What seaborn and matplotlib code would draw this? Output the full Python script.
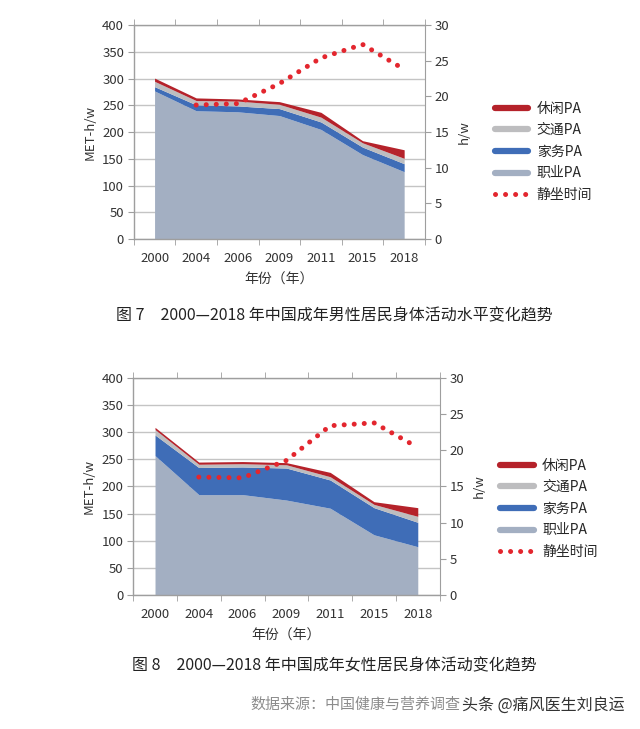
import seaborn as sns
import matplotlib.pyplot as plt
from matplotlib.lines import Line2D

years = ["2000", "2004", "2006", "2009", "2011", "2015", "2018"]

male_occupation = [277, 240, 238, 231, 205, 158, 126]
male_household = [8, 11, 11, 13, 14, 14, 15]
male_transport = [10, 8, 9, 8, 9, 8, 10]
male_leisure = [6, 5, 4, 5, 9, 4, 16]
male_sitting = [None, 18.8, 19.0, 21.8, 25.4, 27.3, 23.8]

female_occupation = [257, 185, 185, 175, 160, 111, 89]
female_household = [38, 50, 51, 59, 52, 50, 45]
female_transport = [10, 6, 6, 6, 6, 6, 11]
female_leisure = [4, 4, 4, 4, 8, 5, 16]
female_sitting = [None, 16.3, 16.2, 18.6, 23.4, 23.8, 20.4]

series_labels = ["职业PA", "家务PA", "交通PA", "休闲PA"]
series_colors = ["#A3AFC2", "#3F6DB7", "#BDBDBF", "#B5222A"]
dot_color = "#E3262E"
grid_color = "#C4C4C4"
spine_color = "#9E9E9E"

sns.set_style("white")
plt.rcParams['font.family'] = ['Noto Sans CJK SC', 'DejaVu Sans']


def draw_panel(fig, rect, occ, house, trans, leis, sitting, caption, cap_y, leg_x, leg_y):
    ax = fig.add_axes(rect)
    xs = list(range(len(years)))
    ax.stackplot(xs, occ, house, trans, leis, colors=series_colors, linewidth=0, zorder=2)
    ax.set_xlim(-0.5, len(years) - 0.5)
    ax.set_ylim(0, 400)
    ax.set_yticks(range(0, 401, 50))
    ax.set_xticks(xs)
    ax.set_xticklabels(years)
    ax.set_xticks([x + 0.5 for x in range(-1, len(years))], minor=True)
    ax.tick_params(axis='x', which='major', length=0, pad=9, labelsize=9.5, colors="#333333")
    ax.tick_params(axis='x', which='minor', length=4, color=spine_color, direction='out',
                   bottom=True, top=True)
    ax.tick_params(axis='y', length=4, color=spine_color, direction='out', left=True,
                   labelsize=9.5, colors="#333333", pad=3)
    ax.grid(axis='y', color=grid_color, linewidth=1, zorder=0)
    ax.set_axisbelow(True)
    for side in ['left', 'bottom', 'top', 'right']:
        ax.spines[side].set_color(spine_color)
        ax.spines[side].set_linewidth(1)
    ax.spines['right'].set_visible(False)
    ax.set_ylabel("MET-h/w", fontsize=9.5, color="#333333", labelpad=4)
    ax.set_xlabel("年份（年）", fontsize=10, color="#333333", labelpad=6)

    ax2 = ax.twinx()
    sx = [x for x, v in zip(xs, sitting) if v is not None]
    sy = [v for v in sitting if v is not None]
    sns.lineplot(x=sx, y=sy, ax=ax2, color=dot_color, linewidth=3.6,
                 linestyle=(0, (0.01, 2.0)), dash_capstyle='round', zorder=5)
    ax2.set_ylim(0, 30)
    ax2.set_yticks(range(0, 31, 5))
    ax2.tick_params(axis='y', length=4, color=spine_color, direction='out', right=True,
                    labelsize=9.5, colors="#333333", pad=3)
    for side in ['left', 'bottom', 'top']:
        ax2.spines[side].set_visible(False)
    ax2.spines['right'].set_color(spine_color)
    ax2.set_ylabel("h/w", fontsize=9.5, color="#333333", labelpad=6)
    ax2.set_xlim(-0.5, len(years) - 0.5)

    handles = [Line2D([], [], color=c, linewidth=4.5) for c in series_colors[::-1]]
    handles.append(Line2D([], [], color=dot_color, linewidth=3.6,
                          linestyle=(0, (0.01, 2.0)), dash_capstyle='round'))
    labels = series_labels[::-1] + ["静坐时间"]
    fig.legend(handles, labels, loc='upper left', bbox_to_anchor=(leg_x, leg_y),
               frameon=False, fontsize=10, handlelength=2.4, handletextpad=0.6,
               labelspacing=0.55, borderaxespad=0)

    fig.text(0.523, cap_y, caption, ha='center', va='center', fontsize=11.5,
             fontweight='medium', color="#222222")


fig = plt.figure(figsize=(6.4, 7.29), dpi=100)

draw_panel(fig, [0.209, 0.672, 0.455, 0.2935],
           male_occupation, male_household, male_transport, male_leisure, male_sitting,
           "图 7　2000—2018 年中国成年男性居民身体活动水平变化趋势", 1 - 316 / 729,
           0.765, 1 - 96 / 729)
draw_panel(fig, [0.208, 0.1838, 0.479, 0.2977],
           female_occupation, female_household, female_transport, female_leisure,
           female_sitting,
           "图 8　2000—2018 年中国成年女性居民身体活动变化趋势", 1 - 666 / 729,
           0.773, 1 - 453 / 729)

fig.text(250 / 640, 1 - 705 / 729, "数据来源：中国健康与营养调查", ha='left', va='center',
         fontsize=10.8, color="#8C8C8C")
fig.text(462 / 640, 1 - 705 / 729, "头条 @痛风医生刘良运", ha='left', va='center',
         fontsize=11.5, color="#333333")

plt.savefig("out.png", dpi=100)
plt.close()
